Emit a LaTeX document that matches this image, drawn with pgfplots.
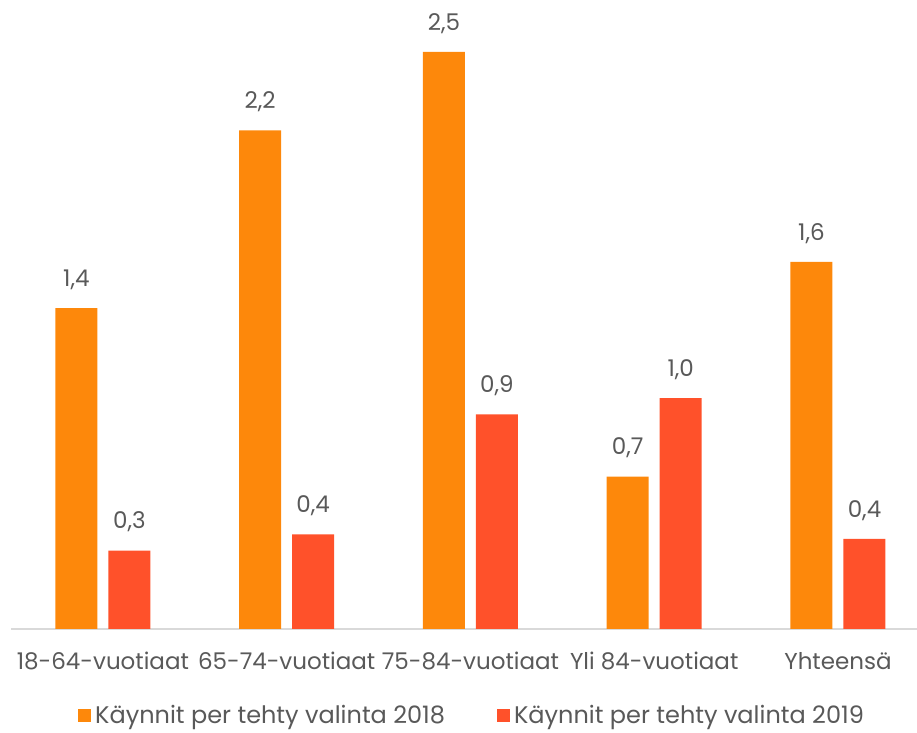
\documentclass[border=0pt]{standalone}
\usepackage{pgfplots}
\pgfplotsset{compat=1.18}
\usepackage{fontspec}
\setmainfont{Poppins}
\definecolor{orA}{HTML}{FD880B}
\definecolor{reB}{HTML}{FF512A}
\definecolor{txt}{HTML}{595959}
\definecolor{axl}{HTML}{D9D9D9}
\newcommand{\fs}{\fontsize{11.5}{14}\selectfont}
\newcommand{\fl}{\fontsize{12}{14}\selectfont}
\begin{document}
\begin{tikzpicture}
\begin{axis}[
  scale only axis,
  width=453pt, height=314.5pt,
  xmin=-0.5, xmax=4.43, ymin=0, ymax=2.725,
  axis x line*=bottom, axis y line=none,
  x axis line style={draw=axl, line width=1pt},
  xtick={0,1,2,3,4},
  xticklabels={18-64-vuotiaat,65-74-vuotiaat,75-84-vuotiaat,Yli 84-vuotiaat,Yhteensä},
  major tick length=0pt,
  xticklabel style={font=\fs, text=txt, yshift=-8pt},
  ybar, bar width=21pt,
  nodes near coords={\pgfmathprintnumber[fixed,fixed zerofill,precision=1,use comma,assume math mode=true]{\pgfplotspointmeta}},
  every node near coord/.append style={font=\fs, text=txt, inner sep=0pt, anchor=south, yshift=9pt},
  legend style={draw=none, at={(0.51,-0.138)}, anchor=center, legend columns=2,
    font=\fl, text=txt, inner sep=1pt,
    /tikz/every even column/.append style={column sep=24pt}},
  legend image code/.code={\fill[#1] (0pt,-3.25pt) rectangle (6.5pt,3.25pt);},
  clip=false,
]
\addplot[fill=orA, draw=none, bar shift=-13.25pt] coordinates {(0,1.39) (1,2.16) (2,2.5) (3,0.66) (4,1.59)};
\addplot[fill=reB, draw=none, bar shift=13.25pt] coordinates {(0,0.34) (1,0.41) (2,0.93) (3,1.0) (4,0.39)};
\legend{Käynnit per tehty valinta 2018,Käynnit per tehty valinta 2019}
\coordinate (bl) at (rel axis cs:0,0);
\end{axis}
\pgfresetboundingbox
\path[use as bounding box] ([xshift=-5.5pt,yshift=-52pt]bl) rectangle ([xshift=453pt,yshift=314.5pt]bl);
\end{tikzpicture}
\end{document}
